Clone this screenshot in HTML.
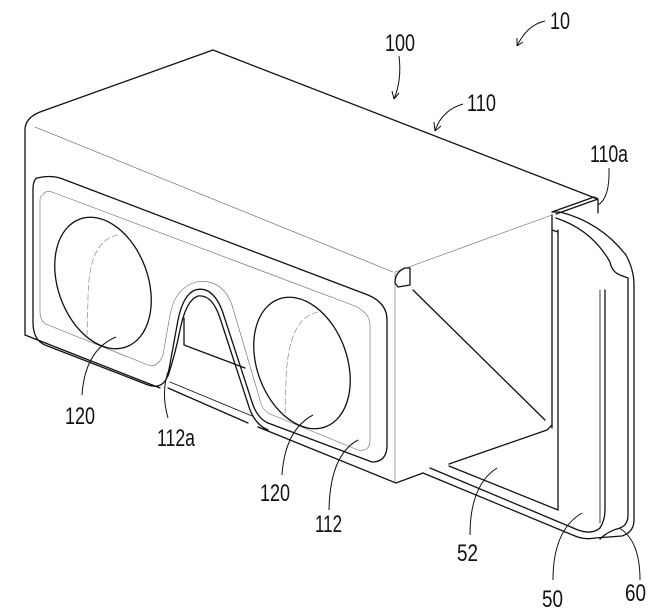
<!DOCTYPE html>
<html><head><meta charset="utf-8"><style>
html,body{margin:0;padding:0;background:#fff;}
svg{display:block}
text{font-family:"Liberation Sans",sans-serif;font-size:24px;fill:#111;}
</style></head><body>
<svg width="671" height="616" viewBox="0 0 671 616" xmlns="http://www.w3.org/2000/svg">
<g fill="none" stroke="#111" stroke-width="1.3" stroke-linejoin="round" stroke-linecap="round">
<path d="M25,335 L25,130 Q25,118 40,112 L213,50 L595,198"/>
<path d="M35,127 L393,272" stroke-width="0.6" stroke="#555"/>
<path d="M25,335 L160,388"/>
<path d="M258,427 L396,483"/>
<path d="M395,272 L395,483" stroke-width="0.6" stroke="#666"/>
<path d="M395,272 L552,215" stroke-width="0.6" stroke="#666"/>
<path d="M396,483 L423,473"/>
<path d="M449,464 L547,430 L552,425"/>
<path d="M413,290 L545,420"/>
<path d="M552,215 L552,428"/>
<path d="M395,283 Q395,272 405,268 L410,268 L410,285 L398,287 Z"/>
<path d="M552,212 L594,197 L598,199 L556,214"/>
<path d="M595,198 L598,200 L598,213"/>
<path d="M552,212 L560,212 Q600,222 626,255 Q634,270 634,285 L634,520 Q634,532 622,536 L595,538 Q585,540 575,536 L423,473"/>
<path d="M556,218 Q592,230 610,262 Q612,272 620,275 L628,278 L628,515 Q628,525 620,528 Q608,531 600,539"/>
<path d="M558,230 L558,510"/>
<path d="M552,230 L558,232"/>
<path d="M449,466 L558,510"/>
<path d="M430,468 L578,530 Q592,535 600,528 Q605,520 605,510 L605,290"/>
<path d="M600,523 L600,290" stroke-width="0.8"/>
<path d="M37,178 Q50,175 60,178 L368,295 Q387,303 387,320 L387,445 Q387,462 372,462 L268,423 Q257,418 252,402 L222,310 Q212,285 195,290 Q183,295 178,320 L168,375 Q163,390 148,385 L45,345 Q33,340 33,322 L33,190 Q33,180 37,178 Z"/>
<path d="M43,195 Q45,190 52,192 L355,306 Q370,313 370,325 L370,440 Q370,452 358,450 L270,414 Q262,410 260,400 L232,305 Q222,278 196,282 Q175,288 170,315 L163,355 Q158,368 148,365 L48,325 Q40,322 40,312 L40,200 Q40,195 43,195 Z" stroke-width="0.6" stroke="#666"/>
<path d="M168,376 Q175,355 180,330 Q186,300 198,296 Q212,294 220,318 L250,410 Q256,425 268,430"/>
<path d="M184,318 L184,345 L245,368"/>
<path d="M168,388 L248,423"/>
<path d="M170,382 L252,416" stroke-width="0.8"/>
<ellipse cx="103" cy="283" rx="45" ry="68" transform="rotate(-20 103 283)"/>
<ellipse cx="302" cy="363" rx="45" ry="68" transform="rotate(-20 302 363)"/>
<path d="M118,235 Q88,240 88,300 L87,335" stroke-width="0.6" stroke="#777" stroke-dasharray="6,3"/>
<path d="M318,312 Q288,318 286,380 L285,415" stroke-width="0.6" stroke="#777" stroke-dasharray="6,3"/>
</g>
<g fill="none" stroke="#111" stroke-width="1">
<path d="M116,337 Q85,350 82,395"/>
<path d="M170,367 Q160,390 168,418"/>
<path d="M313,415 Q285,430 282,475"/>
<path d="M358,440 Q330,455 329,510"/>
<path d="M497,468 Q470,485 470,535"/>
<path d="M582,513 Q553,530 553,580"/>
<path d="M619,528 Q640,540 640,580"/>
<path d="M609,168 Q610,198 598,205"/>
<path d="M399,56 Q402,80 394,99 M394,99 L392,91 M394,99 L399,93"/>
<path d="M463,104 Q442,110 435,131 M435,131 L434,122 M435,131 L441,126"/>
<path d="M545,21 Q527,25 517,46 M517,46 L517,38 M517,46 L523,42"/>
</g>
<g>
<text x="550" y="29" textLength="20" lengthAdjust="spacingAndGlyphs">10</text>
<text x="385" y="51" textLength="30" lengthAdjust="spacingAndGlyphs">100</text>
<text x="467" y="111" textLength="29" lengthAdjust="spacingAndGlyphs">110</text>
<text x="590" y="162" textLength="38" lengthAdjust="spacingAndGlyphs">110a</text>
<text x="65" y="424" textLength="30" lengthAdjust="spacingAndGlyphs">120</text>
<text x="157" y="446" textLength="38" lengthAdjust="spacingAndGlyphs">112a</text>
<text x="260" y="501" textLength="30" lengthAdjust="spacingAndGlyphs">120</text>
<text x="315" y="532" textLength="27" lengthAdjust="spacingAndGlyphs">112</text>
<text x="457" y="561" textLength="21" lengthAdjust="spacingAndGlyphs">52</text>
<text x="542" y="607" textLength="21" lengthAdjust="spacingAndGlyphs">50</text>
<text x="625" y="601" textLength="21" lengthAdjust="spacingAndGlyphs">60</text>
</g>
</svg>
</body></html>
